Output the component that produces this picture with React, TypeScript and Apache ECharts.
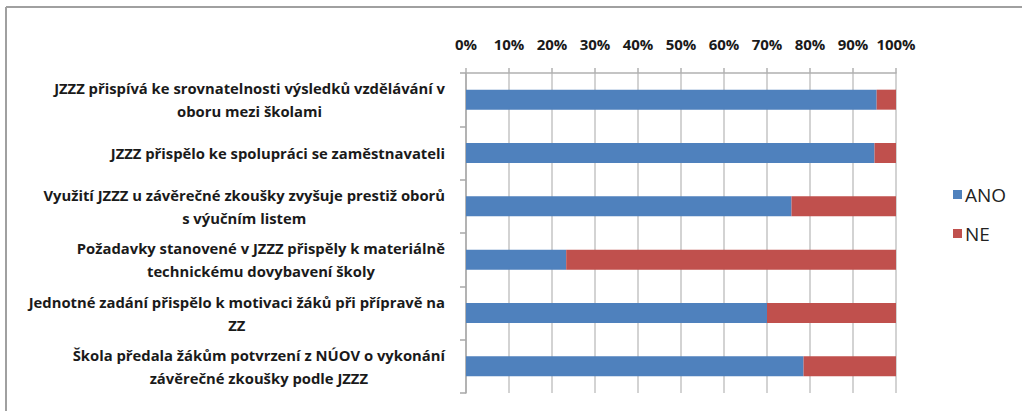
import React, { useEffect, useRef } from "react";
import * as echarts from "echarts";

const categories = [
  "JZZZ přispívá ke srovnatelnosti výsledků vzdělávání v\noboru mezi školami",
  "JZZZ přispělo ke spolupráci se zaměstnavateli",
  "Využití JZZZ u závěrečné zkoušky zvyšuje prestiž oborů\ns výučním listem",
  "Požadavky stanovené v JZZZ přispěly k materiálně\ntechnickému dovybavení školy",
  "Jednotné zadání přispělo k motivaci žáků při přípravě na\nZZ",
  "Škola předala žákům potvrzení z NÚOV o vykonání\nzávěrečné zkoušky podle JZZZ",
];
const anoValues = [95.5, 95, 75.7, 23.3, 70, 78.5];
const neValues = [4.5, 5, 24.3, 76.7, 30, 21.5];
const seriesNames = ["ANO", "NE"];

export default function App() {
  const ref = useRef<HTMLDivElement>(null);
  useEffect(() => {
    if (!ref.current) return;
    const chart = echarts.init(ref.current, null, { renderer: "svg" });
    chart.setOption({
      animation: false,
      backgroundColor: "#ffffff",
      color: ["#4F81BD", "#C0504D"],
      graphic: [
        { type: "line", shape: { x1: 6, y1: 7, x2: 1022, y2: 7 }, style: { stroke: "#a0a0a0", lineWidth: 2 } },
        { type: "line", shape: { x1: 6, y1: 7, x2: 6, y2: 411 }, style: { stroke: "#a0a0a0", lineWidth: 2 } },
      ],
      legend: {
        orient: "vertical",
        left: 948,
        top: 180,
        itemWidth: 9,
        itemHeight: 9,
        itemGap: 20,
        icon: "rect",
        data: seriesNames,
        textStyle: { fontFamily: "Open Sans", fontSize: 19, color: "#222", padding: [0, 0, 0, -2] },
      },
      grid: { left: 466, right: 126, top: 73, bottom: 18 },
      xAxis: {
        type: "value",
        position: "top",
        min: 0,
        max: 100,
        interval: 10,
        axisLine: { show: true, lineStyle: { color: "#b0b0b0", width: 1.5 } },
        axisTick: { show: true, length: 5, lineStyle: { color: "#b0b0b0", width: 1.5 } },
        splitLine: { show: true, lineStyle: { color: "#c4c4c4", width: 1.5 } },
        axisLabel: {
          formatter: "{value}%",
          fontFamily: "Open Sans",
          fontWeight: "bold",
          fontSize: 15,
          color: "#1a1a1a",
          margin: 22,
        },
      },
      yAxis: {
        type: "category",
        inverse: true,
        data: categories,
        axisLine: { show: true, lineStyle: { color: "#a8a8a8", width: 1.5 } },
        axisTick: { show: true, length: 6, lineStyle: { color: "#a8a8a8", width: 1.5 } },
        axisLabel: {
          margin: 21,
          formatter: (v: string) => v.split("\n").map((l) => `{c|${l}}`).join("\n"),
          rich: {
            c: {
              align: "center",
              fontFamily: "Open Sans",
              fontWeight: "bold",
              fontSize: 14.8,
              color: "#1a1a1a",
              lineHeight: 23,
            },
          },
        },
      },
      series: [
        { name: seriesNames[0], type: "bar", stack: "s", barWidth: 20, data: anoValues },
        { name: seriesNames[1], type: "bar", stack: "s", barWidth: 20, data: neValues },
      ],
    });
    return () => chart.dispose();
  }, []);
  return (
    <div
      ref={ref}
      style={{ position: "fixed", left: 0, top: 0, width: 1022, height: 411 }}
    />
  );
}
